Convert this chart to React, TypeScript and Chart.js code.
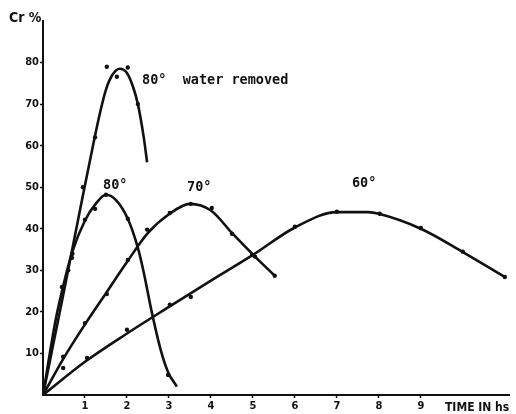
import React, { useEffect, useRef } from "react";
import { Chart, registerables } from "chart.js";

Chart.register(...registerables);

// Smooth curves as drawn (hours, Cr %)
const curveWaterRemoved = [
  { x: 0, y: 0 }, { x: 0.5, y: 25 }, { x: 0.95, y: 48 }, { x: 1.19, y: 60 },
  { x: 1.36, y: 68 }, { x: 1.5, y: 73.5 }, { x: 1.65, y: 77 }, { x: 1.83, y: 78.5 },
  { x: 2.0, y: 77.5 }, { x: 2.15, y: 74 }, { x: 2.26, y: 70 }, { x: 2.4, y: 62 },
  { x: 2.48, y: 56 },
];
const curve80 = [
  { x: 0, y: 0 }, { x: 0.3, y: 18 }, { x: 0.5, y: 27 }, { x: 0.7, y: 34.5 },
  { x: 1.0, y: 42 }, { x: 1.24, y: 45.8 }, { x: 1.5, y: 48.2 }, { x: 1.75, y: 46.8 },
  { x: 2.02, y: 42.4 }, { x: 2.26, y: 35.4 }, { x: 2.4, y: 29.5 }, { x: 2.59, y: 20 },
  { x: 2.8, y: 11 }, { x: 2.98, y: 5.5 }, { x: 3.19, y: 2 },
];
const curve70 = [
  { x: 0, y: 0 }, { x: 0.5, y: 9 }, { x: 1.0, y: 17 }, { x: 1.5, y: 24.5 },
  { x: 2.0, y: 32 }, { x: 2.5, y: 39 }, { x: 3.0, y: 43.5 }, { x: 3.5, y: 46 },
  { x: 4.0, y: 44.4 }, { x: 4.5, y: 39 }, { x: 5.05, y: 33.3 }, { x: 5.52, y: 28.7 },
];
const curve60 = [
  { x: 0, y: 0 }, { x: 1, y: 8 }, { x: 2, y: 14.8 }, { x: 3, y: 21.2 },
  { x: 4, y: 27.5 }, { x: 5, y: 33.7 }, { x: 6, y: 40.3 }, { x: 7, y: 44 },
  { x: 7.75, y: 44 }, { x: 8, y: 43.6 }, { x: 9, y: 40 }, { x: 10, y: 34.4 },
  { x: 11, y: 28.4 },
];

// Observed points
const dotsWaterRemoved = [
  { x: 0.45, y: 26 }, { x: 0.6, y: 30 }, { x: 0.7, y: 34 }, { x: 0.95, y: 50 },
  { x: 1.24, y: 62 }, { x: 1.52, y: 79 }, { x: 1.76, y: 76.6 }, { x: 2.02, y: 78.8 },
  { x: 2.26, y: 70 },
];
const dots80 = [
  { x: 0.69, y: 33 }, { x: 1.0, y: 42.2 }, { x: 1.24, y: 44.8 }, { x: 1.5, y: 48.2 },
  { x: 2.02, y: 42.4 }, { x: 2.98, y: 4.8 },
];
const dots70 = [
  { x: 0.48, y: 9.2 }, { x: 0.48, y: 6.5 }, { x: 1.0, y: 17.3 }, { x: 1.52, y: 24.3 },
  { x: 2.02, y: 32.5 }, { x: 2.48, y: 39.8 }, { x: 3.02, y: 43.8 }, { x: 3.52, y: 46 },
  { x: 4.02, y: 45 }, { x: 4.5, y: 38.8 }, { x: 5.05, y: 33.3 }, { x: 5.52, y: 28.7 },
];
const dots60 = [
  { x: 1.05, y: 8.9 }, { x: 2.0, y: 15.7 }, { x: 3.02, y: 21.7 }, { x: 3.52, y: 23.6 },
  { x: 4.98, y: 33.7 }, { x: 6.0, y: 40.5 }, { x: 7.0, y: 44.1 }, { x: 8.02, y: 43.6 },
  { x: 9.0, y: 40.2 }, { x: 10.0, y: 34.5 }, { x: 11.0, y: 28.4 },
];

const xTickLabels = [1, 2, 3, 4, 5, 6, 7, 8, 9];
const yTickLabels = [10, 20, 30, 40, 50, 60, 70, 80];

const curveLabels = [
  { text: "80°  water removed", x: 2.36, y: 75.8 },
  { text: "80°", x: 1.43, y: 50.5 },
  { text: "70°", x: 3.43, y: 50 },
  { text: "60°", x: 7.36, y: 50.8 },
];

const INK = "#111";

export default function App() {
  const ref = useRef<HTMLCanvasElement | null>(null);

  useEffect(() => {
    if (!ref.current) return;
    const lineDs = (data: any[]) => ({
      type: "line" as const,
      data,
      borderColor: INK,
      borderWidth: 2.6,
      pointRadius: 0,
      cubicInterpolationMode: "monotone",
      fill: false,
    });
    const dotDs = (data: any[]) => ({
      type: "scatter" as const,
      data,
      backgroundColor: INK,
      borderColor: INK,
      pointRadius: 2.2,
      borderWidth: 0,
      showLine: false,
    });

    const textPlugin = {
      id: "texts",
      afterDatasetsDraw(chart: any) {
        const ctx = chart.ctx;
        const xs = chart.scales.x;
        const ys = chart.scales.y;
        ctx.save();
        ctx.fillStyle = INK;
        ctx.textBaseline = "middle";
        ctx.textAlign = "left";
        ctx.font = "bold 13.5px 'DejaVu Sans Mono', monospace";
        curveLabels.forEach((l) => {
          ctx.fillText(l.text, xs.getPixelForValue(l.x), ys.getPixelForValue(l.y));
        });
        ctx.font = "bold 12px 'DejaVu Sans Condensed', 'DejaVu Sans', sans-serif";
        ctx.fillText("TIME IN hs", xs.right - 64, 408);
        ctx.font = "bold 14px 'DejaVu Sans Condensed', 'DejaVu Sans', sans-serif";
        ctx.fillText("Cr %", 9, 18);
        ctx.restore();
      },
    };

    const chart = new Chart(ref.current, {
      data: {
        datasets: [
          lineDs(curveWaterRemoved),
          lineDs(curve80),
          lineDs(curve70),
          lineDs(curve60),
          dotDs(dotsWaterRemoved),
          dotDs(dots80),
          dotDs(dots70),
          dotDs(dots60),
        ],
      } as any,
      options: {
        animation: false,
        responsive: false,
        maintainAspectRatio: false,
        layout: { padding: { top: 21, right: 7, left: 0, bottom: 0 } },
        plugins: { legend: { display: false }, tooltip: { enabled: false } },
        scales: {
          x: {
            type: "linear",
            min: 0,
            max: 11.1,
            afterFit: (s: any) => { s.height = 19; },
            afterBuildTicks: (s: any) => {
              s.ticks = xTickLabels.map((v) => ({ value: v }));
            },
            ticks: { color: INK, font: { family: "'DejaVu Sans Condensed', 'DejaVu Sans', sans-serif", size: 11, weight: "bold" }, padding: 2, maxRotation: 0, autoSkip: false },
            grid: { drawOnChartArea: false, tickLength: 3, color: INK, tickWidth: 1.5 },
            border: { color: INK, width: 2 },
          },
          y: {
            type: "linear",
            min: 0,
            max: 90,
            afterFit: (s: any) => { s.width = 43; },
            afterBuildTicks: (s: any) => {
              s.ticks = yTickLabels.map((v) => ({ value: v }));
            },
            ticks: { color: INK, font: { family: "'DejaVu Sans Condensed', 'DejaVu Sans', sans-serif", size: 11, weight: "bold" }, padding: 1, autoSkip: false },
            grid: { drawOnChartArea: false, tickLength: 3, color: INK, tickWidth: 1.5 },
            border: { color: INK, width: 2 },
          },
        },
      } as any,
      plugins: [textPlugin],
    });
    return () => chart.destroy();
  }, []);

  return (
    <div style={{ position: "fixed", left: 0, top: 0, width: 516, height: 414, background: "#fff" }}>
      <canvas ref={ref} width={516} height={414} style={{ width: 516, height: 414, display: "block" }} />
    </div>
  );
}
